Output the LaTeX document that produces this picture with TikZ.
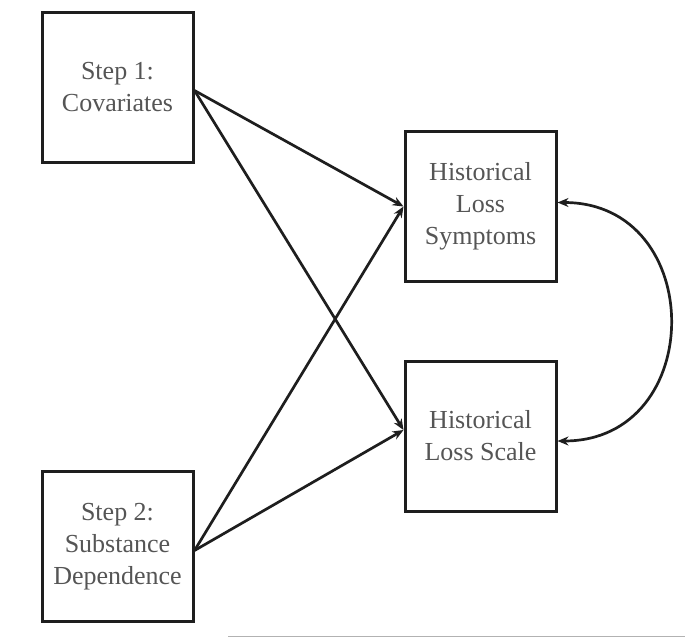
\documentclass[tikz,border=0pt]{standalone}
\usepackage{fontspec}
\setmainfont{Liberation Serif}
\usetikzlibrary{arrows.meta}
\definecolor{txt}{HTML}{555555}
\definecolor{ln}{HTML}{1E1E1E}
\begin{document}
\begin{tikzpicture}[x=1pt,y=-1pt,
  box/.style={draw=ln,line width=3pt,minimum width=151pt,minimum height=150pt,
    align=center,text=txt,inner sep=0pt,
    font=\fontsize{26pt}{32pt}\selectfont},
  conn/.style={draw=ln,line width=2.7pt,-{Stealth[length=11pt,width=9pt]}},
  both/.style={draw=ln,line width=2.7pt,{Stealth[length=11pt,width=9pt]}-{Stealth[length=11pt,width=9pt]}}]
\useasboundingbox (0,0) rectangle (685,637);
\node[box] (s1) at (117.5,87.5) {Step 1:\\Covariates};
\node[box] (s2) at (117.5,546.5) {Step 2:\\Substance\\Dependence};
\node[box] (h1) at (480.5,206.5) {Historical\\Loss\\Symptoms};
\node[box] (h2) at (480.5,436) {Historical\\Loss Scale};
\coordinate (o1) at ([yshift=-3pt]s1.east);
\coordinate (o2) at ([yshift=-4pt]s2.east);
\coordinate (t1) at (h1.west);
\coordinate (t2) at ([yshift=6pt]h2.west);
\draw[conn] (o1) -- (t1);
\draw[conn] (o1) -- (t2);
\draw[conn] (o2) -- (t1);
\draw[conn] (o2) -- (t2);
\coordinate (c1) at ([yshift=4pt]h1.east);
\coordinate (c2) at ([yshift=-5pt]h2.east);
\draw[both] (c1) .. controls +(150,0) and +(150,0) .. (c2);
\coordinate (g1) at (228,636);
\coordinate (g2) at (685,636);
\draw[gray!60,line width=1pt] (g1) -- (g2);
\end{tikzpicture}
\end{document}
